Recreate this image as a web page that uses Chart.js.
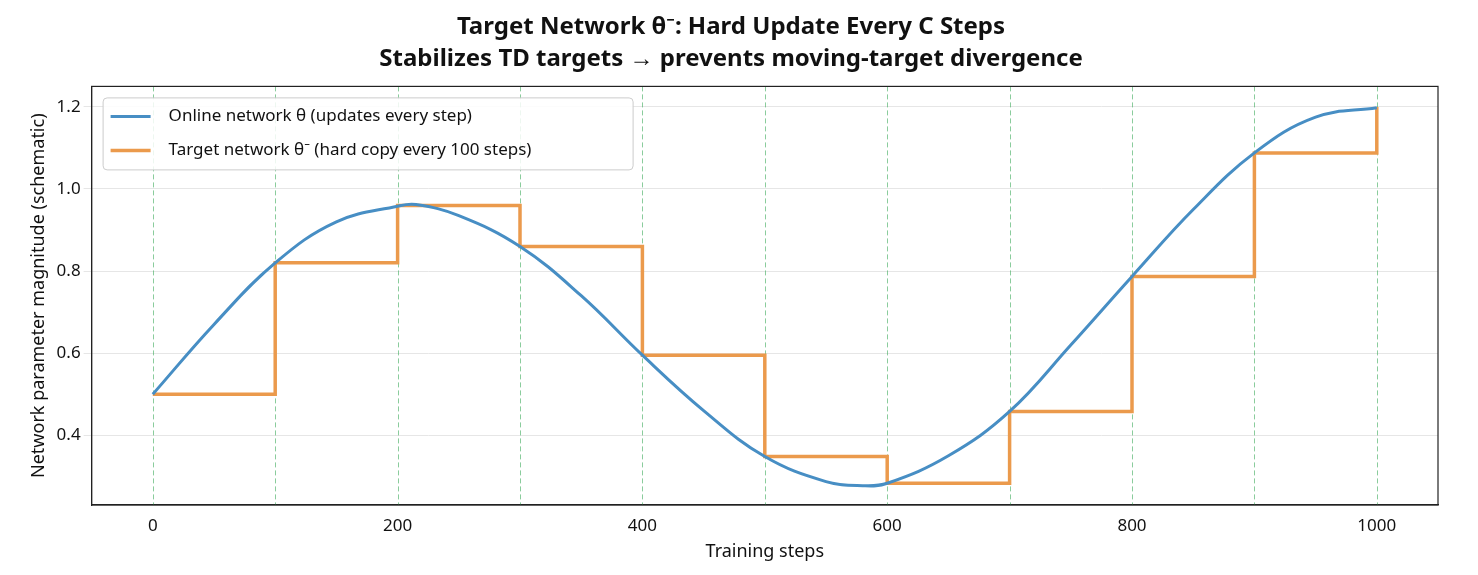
<!DOCTYPE html>
<html>
<head>
<meta charset="utf-8">
<script src="https://cdn.jsdelivr.net/npm/chart.js@4"></script>
<style>
  body { margin: 0; background: #fff; }
  #wrap { width: 1478px; height: 575px; }
</style>
</head>
<body>
<div id="wrap"><canvas id="chart"></canvas></div>
<script>
// Online network curve
const onlineSteps = [0, 50, 100, 150, 200, 215, 250, 300, 350, 400, 450, 500, 550, 580, 600, 650, 700, 750, 800, 850, 900, 950, 1000];
const onlineValues = [0.5, 0.67, 0.82, 0.92, 0.958, 0.962, 0.935, 0.86, 0.74, 0.595, 0.46, 0.348, 0.287, 0.277, 0.283, 0.35, 0.458, 0.62, 0.787, 0.95, 1.088, 1.175, 1.198];

// Target network copies at each hard update
const updateSteps = [0, 100, 200, 300, 400, 500, 600, 700, 800, 900, 1000];
const targetValues = [0.5, 0.82, 0.96, 0.86, 0.595, 0.348, 0.283, 0.458, 0.787, 1.088, 1.2];

const yTicks = [0.4, 0.6, 0.8, 1.0, 1.2];
const xTicks = [0, 200, 400, 600, 800, 1000];

const font = "'Noto Sans', sans-serif";

// green dashed lines at every update step + full frame
const updateLines = {
    id: 'updateLines',
    beforeDatasetsDraw(chart) {
        const { ctx, chartArea, scales } = chart;
        ctx.save();
        ctx.strokeStyle = 'rgba(60,170,90,0.6)';
        ctx.lineWidth = 1;
        ctx.setLineDash([5, 3]);
        updateSteps.forEach(s => {
            const x = Math.round(scales.x.getPixelForValue(s)) + 0.5;
            ctx.beginPath();
            ctx.moveTo(x, chartArea.top);
            ctx.lineTo(x, chartArea.bottom);
            ctx.stroke();
        });
        ctx.restore();
    },
    afterDatasetsDraw(chart) {
        const { ctx, chartArea } = chart;
        ctx.save();
        ctx.strokeStyle = '#222';
        ctx.lineWidth = 1.2;
        ctx.strokeRect(chartArea.left, chartArea.top, chartArea.right - chartArea.left, chartArea.bottom - chartArea.top);
        ctx.restore();
    }
};

// legend box inside the plot, upper left
const insideLegend = {
    id: 'insideLegend',
    afterDraw(chart) {
        const { ctx, chartArea } = chart;
        const x = chartArea.left + 11, y = chartArea.top + 11;
        ctx.save();
        ctx.fillStyle = 'rgba(255,255,255,0.85)';
        ctx.strokeStyle = '#ccc';
        ctx.lineWidth = 1;
        ctx.beginPath();
        ctx.roundRect(x + 0.5, y + 0.5, 530, 72, 4);
        ctx.fill();
        ctx.stroke();
        ctx.font = '17px ' + font;
        ctx.textBaseline = 'middle';
        chart.data.datasets.forEach((ds, i) => {
            const ly = y + 19 + i * 34;
            ctx.strokeStyle = ds.borderColor;
            ctx.lineWidth = ds.borderWidth;
            ctx.beginPath();
            ctx.moveTo(x + 8, ly);
            ctx.lineTo(x + 48, ly);
            ctx.stroke();
            ctx.fillStyle = '#111';
            ctx.fillText(ds.label, x + 66, ly);
        });
        ctx.restore();
    }
};

new Chart(document.getElementById('chart'), {
    type: 'line',
    data: {
        datasets: [
            {
                label: 'Online network θ (updates every step)',
                data: onlineSteps.map((s, i) => ({ x: s, y: onlineValues[i] })),
                borderColor: '#478ec4',
                borderWidth: 3,
                pointRadius: 0,
                tension: 0.4
            },
            {
                label: 'Target network θ⁻ (hard copy every 100 steps)',
                data: updateSteps.map((s, i) => ({ x: s, y: targetValues[i] })),
                borderColor: '#eb9a4c',
                borderWidth: 3.5,
                pointRadius: 0,
                stepped: 'before'
            }
        ]
    },
    options: {
        responsive: true,
        maintainAspectRatio: false,
        animation: false,
        layout: { padding: { left: 24, right: 40, top: 6, bottom: 8 } },
        plugins: {
            legend: { display: false },
            tooltip: { enabled: false },
            title: {
                display: true,
                text: ['Target Network θ⁻: Hard Update Every C Steps', 'Stabilizes TD targets → prevents moving-target divergence'],
                color: '#111',
                font: { family: font, size: 24, weight: 'bold', lineHeight: 1.3 },
                padding: { top: 6, bottom: 12 }
            }
        },
        scales: {
            x: {
                type: 'linear',
                min: -50,
                max: 1050,
                afterBuildTicks: axis => { axis.ticks = xTicks.map(v => ({ value: v })); },
                ticks: { color: '#111', font: { family: font, size: 17 }, callback: v => String(v) },
                grid: { display: false, drawTicks: true },
                border: { color: '#222', width: 1.2 },
                title: { display: true, text: 'Training steps', color: '#111', font: { family: font, size: 18 }, padding: { top: 2 } }
            },
            y: {
                min: 0.23,
                max: 1.25,
                afterBuildTicks: axis => { axis.ticks = yTicks.map(v => ({ value: v })); },
                ticks: { color: '#111', font: { family: font, size: 17 }, callback: v => v.toFixed(1) },
                grid: { color: '#e6e6e6' },
                border: { color: '#222', width: 1.2 },
                title: { display: true, text: 'Network parameter magnitude (schematic)', color: '#111', font: { family: font, size: 18 } }
            }
        }
    },
    plugins: [updateLines, insideLegend]
});
</script>
</body>
</html>
